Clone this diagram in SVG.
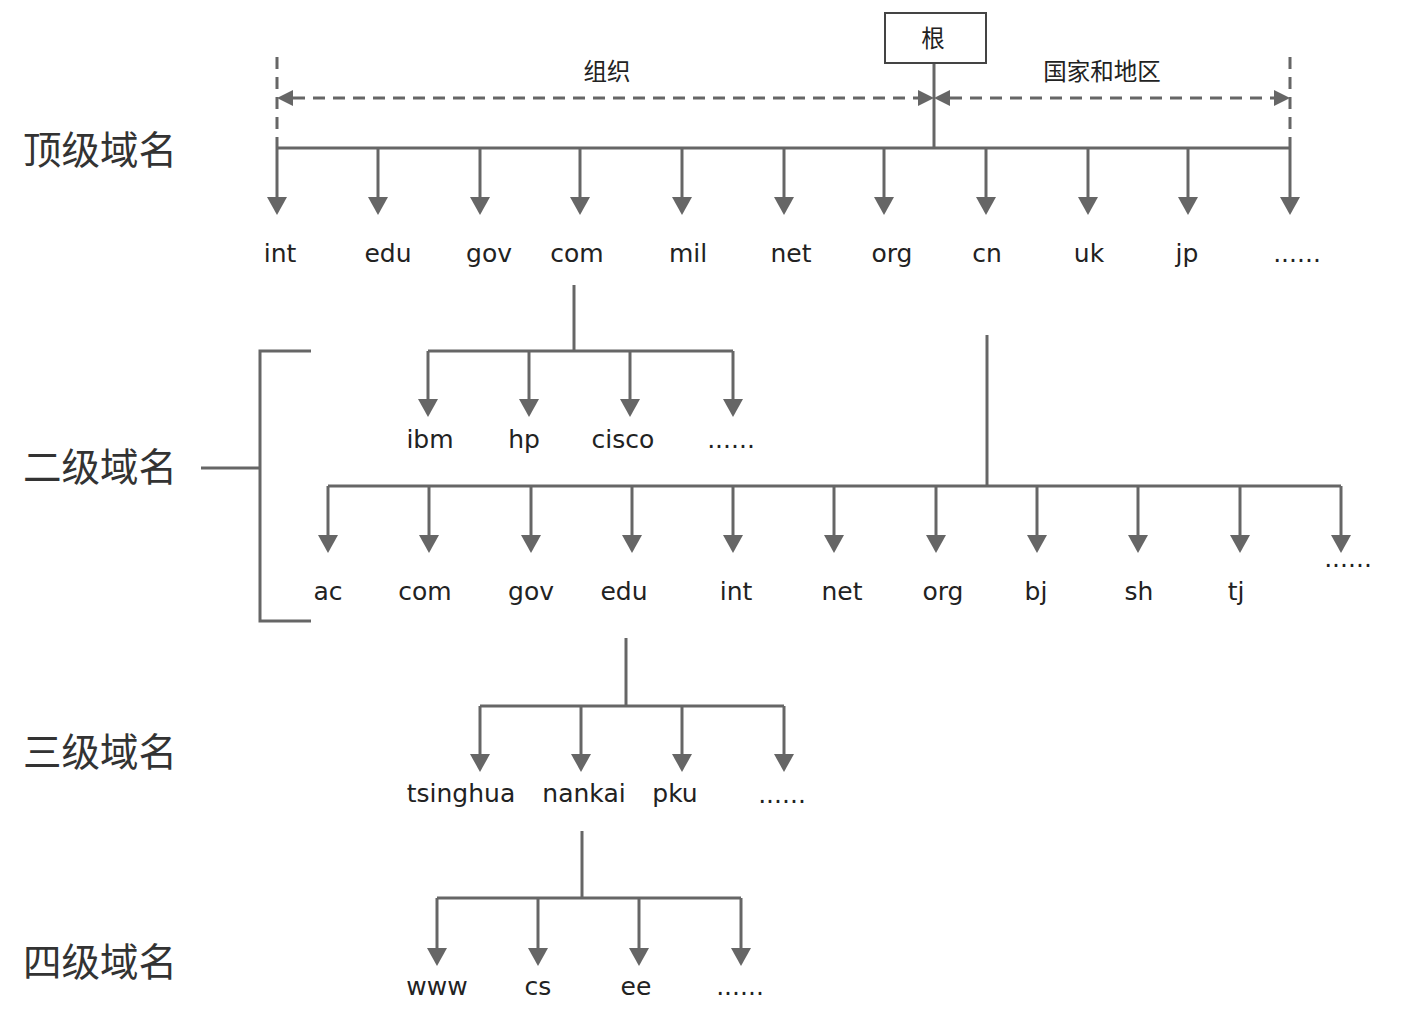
<svg xmlns="http://www.w3.org/2000/svg" width="1402" height="1024" viewBox="0 0 1402 1024">
<defs>
<marker id="ah" viewBox="0 0 18 20" markerWidth="18" markerHeight="20" refX="0" refY="10" orient="auto" markerUnits="userSpaceOnUse"><path d="M0,0 L18,10 L0,20 z" fill="#666"/></marker>
<marker id="dh" viewBox="0 0 16 16" markerWidth="16" markerHeight="16" refX="0" refY="8" orient="auto-start-reverse" markerUnits="userSpaceOnUse"><path d="M0,0 L16,8 L0,16 z" fill="#666"/></marker>
</defs>
<style>
.ln{stroke:#666;stroke-width:3;fill:none}
.ar{stroke:#666;stroke-width:3;fill:none;marker-end:url(#ah)}
.ds{stroke:#666;stroke-width:3;fill:none;stroke-dasharray:12 8}
.da{stroke:#666;stroke-width:3;fill:none;stroke-dasharray:12 8;marker-start:url(#dh);marker-end:url(#dh)}
.t{font-family:"DejaVu Sans","Noto Sans CJK SC",sans-serif;font-size:25px;fill:#222;text-anchor:middle}
.c{font-family:"Noto Sans CJK SC","DejaVu Sans",sans-serif;font-size:23.5px;fill:#222;text-anchor:middle}
.lv{font-family:"Noto Sans CJK SC",sans-serif;font-size:38.5px;fill:#333}
</style>
<rect width="1402" height="1024" fill="#fff"/>
<g id="connectors">
<line class="ln" x1="934" y1="63" x2="934" y2="148"/>
<line class="ds" x1="277" y1="57" x2="277" y2="148"/>
<line class="ds" x1="1290" y1="57" x2="1290" y2="148"/>
<line class="da" x1="293" y1="98" x2="918" y2="98"/>
<line class="da" x1="950" y1="98" x2="1274" y2="98"/>
<line class="ln" x1="277" y1="148" x2="1290" y2="148"/>
<line class="ar" x1="277" y1="148" x2="277" y2="197"/>
<line class="ar" x1="378" y1="148" x2="378" y2="197"/>
<line class="ar" x1="480" y1="148" x2="480" y2="197"/>
<line class="ar" x1="580" y1="148" x2="580" y2="197"/>
<line class="ar" x1="682" y1="148" x2="682" y2="197"/>
<line class="ar" x1="784" y1="148" x2="784" y2="197"/>
<line class="ar" x1="884" y1="148" x2="884" y2="197"/>
<line class="ar" x1="986" y1="148" x2="986" y2="197"/>
<line class="ar" x1="1088" y1="148" x2="1088" y2="197"/>
<line class="ar" x1="1188" y1="148" x2="1188" y2="197"/>
<line class="ar" x1="1290" y1="148" x2="1290" y2="197"/>
<line class="ln" x1="574" y1="285" x2="574" y2="351"/>
<line class="ln" x1="428" y1="351" x2="733" y2="351"/>
<line class="ar" x1="428" y1="351" x2="428" y2="399"/>
<line class="ar" x1="529" y1="351" x2="529" y2="399"/>
<line class="ar" x1="630" y1="351" x2="630" y2="399"/>
<line class="ar" x1="733" y1="351" x2="733" y2="399"/>
<line class="ln" x1="987" y1="335" x2="987" y2="486"/>
<line class="ln" x1="328" y1="486" x2="1341" y2="486"/>
<line class="ar" x1="328" y1="486" x2="328" y2="535"/>
<line class="ar" x1="429" y1="486" x2="429" y2="535"/>
<line class="ar" x1="531" y1="486" x2="531" y2="535"/>
<line class="ar" x1="632" y1="486" x2="632" y2="535"/>
<line class="ar" x1="733" y1="486" x2="733" y2="535"/>
<line class="ar" x1="834" y1="486" x2="834" y2="535"/>
<line class="ar" x1="936" y1="486" x2="936" y2="535"/>
<line class="ar" x1="1037" y1="486" x2="1037" y2="535"/>
<line class="ar" x1="1138" y1="486" x2="1138" y2="535"/>
<line class="ar" x1="1240" y1="486" x2="1240" y2="535"/>
<line class="ar" x1="1341" y1="486" x2="1341" y2="535"/>
<path class="ln" d="M311,351 H260 V621 H311"/>
<line class="ln" x1="201" y1="468" x2="260" y2="468"/>
<line class="ln" x1="626" y1="638" x2="626" y2="706"/>
<line class="ln" x1="480" y1="706" x2="784" y2="706"/>
<line class="ar" x1="480" y1="706" x2="480" y2="754"/>
<line class="ar" x1="581" y1="706" x2="581" y2="754"/>
<line class="ar" x1="682" y1="706" x2="682" y2="754"/>
<line class="ar" x1="784" y1="706" x2="784" y2="754"/>
<line class="ln" x1="582" y1="831" x2="582" y2="898"/>
<line class="ln" x1="437" y1="898" x2="741" y2="898"/>
<line class="ar" x1="437" y1="898" x2="437" y2="948"/>
<line class="ar" x1="538" y1="898" x2="538" y2="948"/>
<line class="ar" x1="639" y1="898" x2="639" y2="948"/>
<line class="ar" x1="741" y1="898" x2="741" y2="948"/>
</g>
<g id="root"><rect x="885" y="13" width="101" height="50" fill="#fff" stroke="#444" stroke-width="2"/><text class="c" x="933" y="47">根</text></g>
<g id="label-org"><text class="c" x="607" y="80">组织</text></g>
<g id="label-country"><text class="c" x="1102" y="80">国家和地区</text></g>
<g id="level-labels">
<text class="lv" x="23" y="164">顶级域名</text>
<text class="lv" x="23" y="481">二级域名</text>
<text class="lv" x="23" y="766">三级域名</text>
<text class="lv" x="23" y="976">四级域名</text>
</g>
<g id="tld">
<text class="t" x="280" y="262">int</text>
<text class="t" x="388" y="262">edu</text>
<text class="t" x="489" y="262">gov</text>
<text class="t" x="577" y="262">com</text>
<text class="t" x="688" y="262">mil</text>
<text class="t" x="791" y="262">net</text>
<text class="t" x="892" y="262">org</text>
<text class="t" x="987" y="262">cn</text>
<text class="t" x="1089" y="262">uk</text>
<text class="t" x="1187" y="262">jp</text>
<text class="t" x="1297" y="262">......</text>
</g>
<g id="com-children">
<text class="t" x="430" y="448">ibm</text>
<text class="t" x="524" y="448">hp</text>
<text class="t" x="623" y="448">cisco</text>
<text class="t" x="731" y="448">......</text>
</g>
<g id="cn-children">
<text class="t" x="328" y="600">ac</text>
<text class="t" x="425" y="600">com</text>
<text class="t" x="531" y="600">gov</text>
<text class="t" x="624" y="600">edu</text>
<text class="t" x="736" y="600">int</text>
<text class="t" x="842" y="600">net</text>
<text class="t" x="943" y="600">org</text>
<text class="t" x="1036" y="600">bj</text>
<text class="t" x="1139" y="600">sh</text>
<text class="t" x="1236" y="600">tj</text>
<text class="t" x="1348" y="567">......</text>
</g>
<g id="edu-children">
<text class="t" x="461" y="802">tsinghua</text>
<text class="t" x="584" y="802">nankai</text>
<text class="t" x="675" y="802">pku</text>
<text class="t" x="782" y="803">......</text>
</g>
<g id="nankai-children">
<text class="t" x="437" y="995">www</text>
<text class="t" x="538" y="995">cs</text>
<text class="t" x="636" y="995">ee</text>
<text class="t" x="740" y="995">......</text>
</g>
</svg>
